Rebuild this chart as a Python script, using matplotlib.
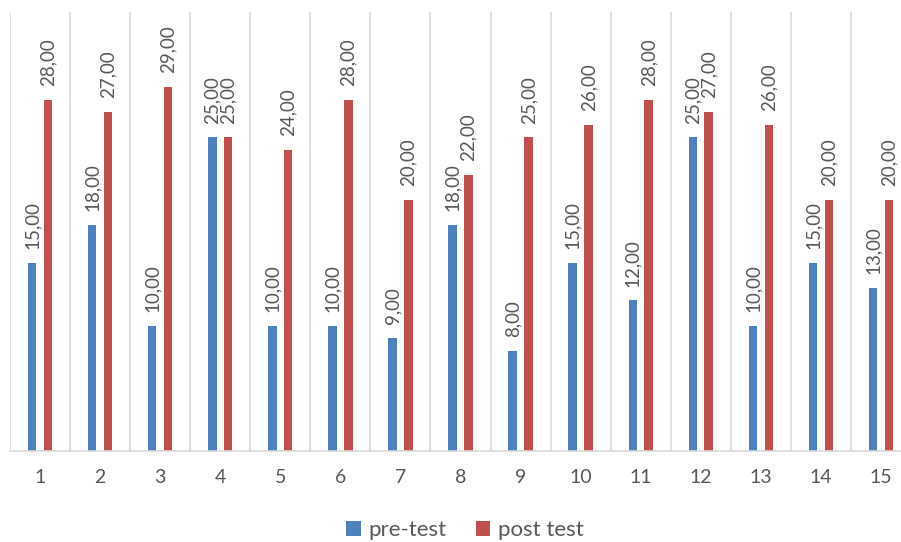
import matplotlib
matplotlib.use("Agg")
import matplotlib.pyplot as plt
import numpy as np

categories = [str(i) for i in range(1, 16)]
pre_test = [15, 18, 10, 25, 10, 10, 9, 18, 8, 15, 12, 25, 10, 15, 13]
post_test = [28, 27, 29, 25, 24, 28, 20, 22, 25, 26, 28, 27, 26, 20, 20]

plt.rcParams['font.family'] = ['Lato', 'DejaVu Sans']
text_color = '#595959'
blue = '#4f81bd'
red = '#c0504d'
grid_c = '#d9d9d9'

W, H = 901, 542
fig = plt.figure(figsize=(W / 100, H / 100), dpi=100)
left, right, top, bottom = 10, 911, 12, 451
ax = fig.add_axes([left / W, (H - bottom) / H, (right - left) / W, (bottom - top) / H])

x = np.arange(1, len(categories) + 1)
bw = 0.14
off = 0.132
b1 = ax.bar(x - off, pre_test, bw, color=blue, label='pre-test')
b2 = ax.bar(x + off, post_test, bw, color=red, label='post test')

for bars, vals in ((b1, pre_test), (b2, post_test)):
    for b, v in zip(bars, vals):
        ax.annotate(f"{v:.2f}".replace('.', ','), (b.get_x() + b.get_width() / 2, v),
                    xytext=(0, 10), textcoords='offset points', rotation=90,
                    ha='center', va='bottom', color=text_color, fontsize=13.5)

ax.set_xlim(0.5, 15.5)
ax.set_ylim(0, 35)
ax.set_yticks([])
ax.set_xticks(x)
ax.set_xticklabels(categories, color=text_color, fontsize=14)
ax.tick_params(axis='x', length=0, pad=13)
ax.set_xticks(np.arange(0.5, 15.6, 1), minor=True)
ax.tick_params(axis='x', which='minor', length=0)
ax.grid(True, axis='x', which='minor', color=grid_c, linewidth=1.2)
ax.grid(False, axis='x', which='major')
ax.set_axisbelow(True)
for s in ('top', 'right', 'left'):
    ax.spines[s].set_visible(False)
ax.spines['bottom'].set_color(grid_c)
ax.spines['bottom'].set_linewidth(1.2)

fig.legend(handles=[b1, b2], loc='center', bbox_to_anchor=(465 / W, 1 - 530 / H),
           ncol=2, frameon=False, fontsize=16, labelcolor=text_color,
           handlelength=0.65, handleheight=0.65, handletextpad=0.35, columnspacing=1.3)

fig.savefig('out.png', dpi=100)
